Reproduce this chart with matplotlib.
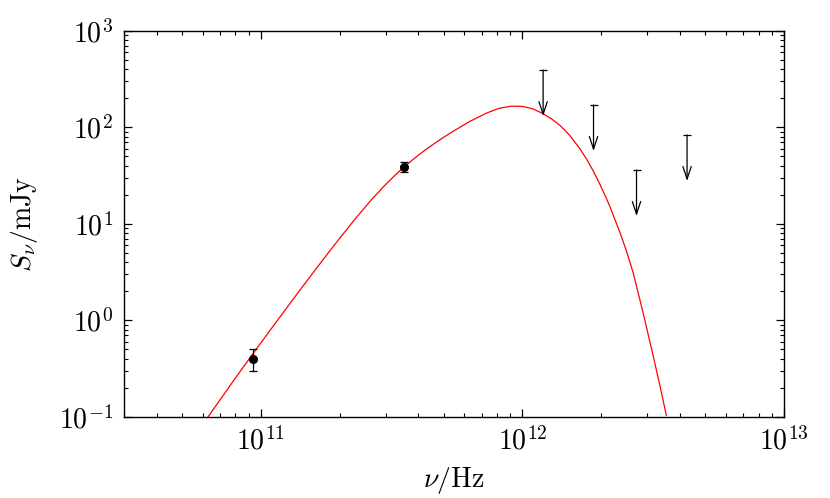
import matplotlib
matplotlib.use("Agg")
import matplotlib.pyplot as plt
import numpy as np

plt.rcParams['font.family'] = 'serif'
plt.rcParams['font.serif'] = ['cmr10', 'DejaVu Serif']
plt.rcParams['mathtext.fontset'] = 'cm'
plt.rcParams['axes.formatter.use_mathtext'] = True

# model curve, as log10(nu/Hz) and log10(S/mJy)
model_lognu = [10.799, 10.901, 10.984, 11.060, 11.136, 11.210, 11.283, 11.360,
               11.420, 11.470, 11.510, 11.544, 11.575, 11.608, 11.640, 11.671,
               11.700, 11.735, 11.799, 11.862, 11.910, 11.958, 12.000, 12.040,
               12.079, 12.111, 12.143, 12.181, 12.219, 12.245, 12.270, 12.295,
               12.321, 12.334, 12.372, 12.397, 12.423, 12.461, 12.499, 12.525,
               12.550]
model_logS = [-1.000, -0.607, -0.295, -0.015, 0.262, 0.528, 0.785, 1.047,
              1.239, 1.386, 1.494, 1.579, 1.650, 1.722, 1.786, 1.845,
              1.897, 1.957, 2.060, 2.145, 2.195, 2.218, 2.215, 2.190,
              2.140, 2.087, 2.020, 1.915, 1.780, 1.670, 1.550, 1.415,
              1.262, 1.180, 0.915, 0.722, 0.495, 0.080, -0.360, -0.670,
              -0.985]

# detections (Hz, mJy)
det_nu = [9.3e10, 3.53e11]
det_S = [0.40, 39.0]
det_err = [0.10, 4.8]

# upper limits (Hz, mJy)
lim_nu = [1.2e12, 1.87e12, 2.73e12, 4.26e12]
lim_S = [390.0, 170.0, 36.0, 83.0]

fig = plt.figure(figsize=(8.3, 4.98), dpi=100)
ax = fig.add_axes([0.1494, 0.1633, 0.7952, 0.7751])

ax.plot(np.power(10.0, model_lognu), np.power(10.0, model_logS), color='red', lw=0.9)

ax.errorbar(det_nu, det_S, yerr=det_err, fmt='o', color='black', ms=5.5,
            capsize=3, elinewidth=0.9, capthick=0.9)

for nu, s in zip(lim_nu, lim_S):
    ax.annotate('', xy=(nu, s / 3.0), xytext=(nu, s),
                arrowprops=dict(arrowstyle='->, head_length=0.9, head_width=0.3',
                                color='black', lw=0.9, shrinkA=0, shrinkB=0))
    ax.plot([nu], [s], marker='_', color='black', ms=6, mew=0.9)

ax.set_xscale('log')
ax.set_yscale('log')
ax.set_xlim(3e10, 1e13)
ax.set_ylim(0.1, 1000)

ax.tick_params(which='both', direction='in', top=True, right=True, labelsize=20)
ax.tick_params(which='major', length=6, width=0.9)
ax.tick_params(which='minor', length=3, width=0.8)
ax.tick_params(axis='x', pad=7)
ax.tick_params(axis='y', pad=8)
for sp in ax.spines.values():
    sp.set_linewidth(1.0)

ax.set_xlabel(r'$\nu/\mathrm{Hz}$', fontsize=20, labelpad=7)
ax.set_ylabel(r'$S_\nu/\mathrm{mJy}$', fontsize=20, labelpad=13)

fig.savefig('out.png', dpi=100)
